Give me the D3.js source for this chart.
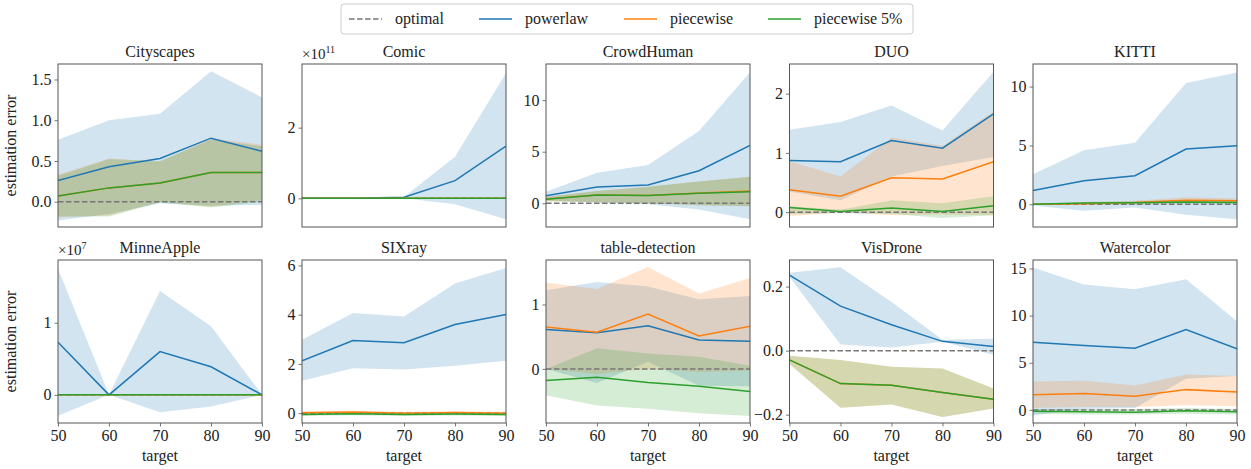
<!DOCTYPE html>
<html>
<head>
<meta charset="utf-8">
<script src="https://cdn.jsdelivr.net/npm/d3@7"></script>
<style>
  body { margin: 0; background: #fff; }
  svg text { font-family: "Liberation Serif", "DejaVu Serif", serif !important; }
</style>
</head>
<body>
<div id="chart"></div>
<script>
const targets = [50, 60, 70, 80, 90];
const datasets = ['Cityscapes', 'Comic', 'CrowdHuman', 'DUO', 'KITTI',
                  'MinneApple', 'SIXray', 'table-detection', 'VisDrone', 'Watercolor'];

// y limits and ticks (values in units of 10^exponent)
const yDomains = [[-0.31, 1.69], [-0.81, 3.8], [-2.3, 13.5], [-0.25, 2.5], [-1.93, 11.92],
                  [-0.39, 1.87], [-0.4, 6.22], [-0.84, 1.69], [-0.226, 0.283], [-1.39, 15.9]];
const yTicks = [[0, 0.5, 1.0, 1.5], [0, 2], [0, 5, 10], [0, 1, 2], [0, 5, 10],
                [0, 1], [0, 2, 4, 6], [0, 1], [-0.2, 0, 0.2], [0, 5, 10, 15]];
const yDecimals = [1, 0, 0, 0, 0, 0, 0, 0, 1, 0];
const exponents = [0, 11, 0, 0, 0, 7, 0, 0, 0, 0];

// powerlaw
const powerlawMean = [
  [0.26, 0.43, 0.53, 0.78, 0.62],
  [0, 0, 0.03, 0.5, 1.48],
  [0.74, 1.58, 1.77, 3.16, 5.6],
  [0.87, 0.85, 1.21, 1.08, 1.66],
  [1.16, 2.0, 2.43, 4.7, 4.98],
  [0.73, 0, 0.6, 0.39, 0],
  [2.13, 2.95, 2.86, 3.6, 4.01],
  [0.61, 0.56, 0.67, 0.45, 0.43],
  [0.236, 0.139, 0.081, 0.029, 0.013],
  [7.18, 6.82, 6.54, 8.53, 6.47]
];
const powerlawLow = [
  [-0.23, -0.15, -0.02, -0.05, -0.04],
  [0, 0, 0, -0.17, -0.59],
  [0.3, 0.05, -0.1, -0.6, -1.55],
  [0.35, 0.2, 0.6, 0.78, 0.93],
  [-0.1, -0.55, -0.28, -0.88, -1.28],
  [-0.29, 0, -0.24, -0.16, 0],
  [1.32, 1.82, 1.77, 1.93, 2.13],
  [0.0, -0.22, 0.11, -0.26, -0.27],
  [0.23, 0.019, 0.01, 0.028, -0.013],
  [-0.6, 0.1, 0.2, 3.3, 3.6]
];
const powerlawHigh = [
  [0.76, 1.0, 1.08, 1.6, 1.28],
  [0, 0.01, 0.04, 1.18, 3.54],
  [1.12, 2.96, 3.7, 7.0, 12.7],
  [1.39, 1.52, 1.8, 1.38, 2.37],
  [2.55, 4.6, 5.23, 10.3, 11.2],
  [1.75, 0, 1.44, 0.95, 0],
  [2.98, 4.07, 3.93, 5.27, 5.9],
  [1.22, 1.35, 1.28, 1.08, 1.13],
  [0.243, 0.26, 0.152, 0.034, 0.037],
  [15.1, 13.3, 12.8, 13.86, 9.4]
];

// piecewise
const piecewiseMean = [
  [0.07, 0.17, 0.23, 0.36, 0.36],
  [0, 0, 0, 0, 0],
  [0.42, 0.8, 0.76, 1.0, 1.2],
  [0.38, 0.27, 0.58, 0.56, 0.85],
  [0, 0.05, 0.15, 0.35, 0.3],
  [0, 0, 0, 0, 0],
  [0.02, 0.05, 0, 0.03, 0],
  [0.65, 0.57, 0.85, 0.51, 0.66],
  [-0.029, -0.103, -0.108, -0.131, -0.152],
  [1.6, 1.75, 1.45, 2.15, 1.9]
];
const piecewiseLow = [
  [-0.19, -0.17, 0.0, -0.06, 0.02],
  [0, 0, 0, 0, 0],
  [0.2, 0.1, 0.0, -0.2, -0.3],
  [-0.07, 0.0, -0.05, -0.04, -0.05],
  [-0.02, -0.02, 0.0, 0.1, 0.1],
  [0, 0, 0, 0, 0],
  [-0.05, -0.03, -0.07, -0.05, -0.07],
  [0.0, -0.08, 0.0, -0.05, -0.03],
  [-0.042, -0.178, -0.168, -0.207, -0.181],
  [0.2, 0.3, 0.3, 0.5, 0.4]
];
const piecewiseHigh = [
  [0.33, 0.53, 0.49, 0.78, 0.7],
  [0, 0, 0, 0, 0],
  [0.6, 1.2, 1.6, 2.1, 2.57],
  [0.86, 0.6, 1.26, 1.12, 1.7],
  [0.05, 0.15, 0.3, 0.6, 0.5],
  [0, 0, 0, 0, 0],
  [0.08, 0.1, 0.06, 0.08, 0.06],
  [1.34, 1.24, 1.58, 1.17, 1.41],
  [-0.016, -0.029, -0.05, -0.056, -0.118],
  [3.0, 3.1, 2.6, 3.75, 3.6]
];

// piecewise 5%
const piecewise5Mean = [
  [0.07, 0.17, 0.23, 0.36, 0.36],
  [0, 0, 0, 0, 0],
  [0.4, 0.8, 0.75, 0.97, 1.12],
  [0.08, 0.01, 0.07, 0.01, 0.11],
  [0, 0.1, 0.12, 0.2, 0.15],
  [0, 0, 0, 0, 0],
  [-0.05, -0.02, -0.05, -0.03, -0.05],
  [-0.18, -0.13, -0.21, -0.27, -0.35],
  [-0.029, -0.103, -0.108, -0.131, -0.152],
  [-0.15, -0.2, -0.25, -0.1, -0.2]
];
const piecewise5Low = [
  [-0.18, -0.18, -0.01, -0.07, 0.0],
  [0, 0, 0, 0, 0],
  [0.2, 0.1, 0.0, -0.2, -0.3],
  [-0.03, -0.02, -0.03, -0.1, -0.05],
  [-0.05, 0.0, 0.0, 0.05, 0.0],
  [0, 0, 0, 0, 0],
  [-0.12, -0.09, -0.12, -0.1, -0.12],
  [-0.41, -0.57, -0.62, -0.69, -0.73],
  [-0.042, -0.178, -0.168, -0.207, -0.181],
  [-0.4, -0.5, -0.5, -0.4, -0.5]
];
const piecewise5High = [
  [0.32, 0.52, 0.5, 0.76, 0.68],
  [0, 0, 0, 0, 0],
  [0.6, 1.2, 1.6, 2.1, 2.57],
  [0.1, 0.04, 0.2, 0.15, 0.27],
  [0.05, 0.2, 0.25, 0.35, 0.3],
  [0, 0, 0, 0, 0],
  [0.02, 0.04, 0.02, 0.03, 0.02],
  [0.0, 0.32, 0.24, 0.19, 0.05],
  [-0.016, -0.029, -0.05, -0.056, -0.118],
  [0.1, 0.1, 0.1, 0.2, 0.1]
];

const legendLabels = ['optimal', 'powerlaw', 'piecewise', 'piecewise 5%'];

const colors = { optimal: '#777', powerlaw: '#1f77b4', piecewise: '#ff7f0e', piecewise5: '#2ca02c' };
const series = [
  { name: 'powerlaw', mean: powerlawMean, low: powerlawLow, high: powerlawHigh },
  { name: 'piecewise', mean: piecewiseMean, low: piecewiseLow, high: piecewiseHigh },
  { name: 'piecewise5', mean: piecewise5Mean, low: piecewise5Low, high: piecewise5High }
];

const W = 1251, H = 469;
const serif = '"Liberation Serif", "DejaVu Serif", serif';
const svg = d3.select('#chart').append('svg').attr('width', W).attr('height', H)
  .attr('font-family', serif);

const colLeft = [58, 302, 546, 789.5, 1033];
const pw = 204;
const rowTop = [64, 260];
const ph = 163;
const spine = '#555';
const textColor = '#222';
const fs = '16px';

datasets.forEach((name, i) => {
  const row = Math.floor(i / 5), col = i % 5;
  const x0 = colLeft[col], y0 = rowTop[row];
  const g = svg.append('g').attr('transform', `translate(${x0},${y0})`);

  const x = d3.scaleLinear().domain([50, 90]).range([0, pw]);
  const y = d3.scaleLinear().domain(yDomains[i]).range([ph, 0]);

  const clipId = 'clip' + i;
  g.append('clipPath').attr('id', clipId)
    .append('rect').attr('width', pw).attr('height', ph);
  const plot = g.append('g').attr('clip-path', `url(#${clipId})`);

  const pts = series.map(s => targets.map((t, j) => ({ t, m: s.mean[i][j], lo: s.low[i][j], hi: s.high[i][j] })));

  // bands
  series.forEach((s, k) => {
    plot.append('path')
      .datum(pts[k])
      .attr('d', d3.area().x(d => x(d.t)).y0(d => y(d.lo)).y1(d => y(d.hi)))
      .attr('fill', colors[s.name])
      .attr('fill-opacity', 0.2)
      .attr('stroke', 'none');
  });

  // optimal
  plot.append('path')
    .datum(targets)
    .attr('d', d3.line().x(d => x(d)).y(() => y(0)))
    .attr('fill', 'none')
    .attr('stroke', colors.optimal)
    .attr('stroke-width', 1.5)
    .attr('stroke-dasharray', '5.5,2.5');

  // mean lines
  series.forEach((s, k) => {
    plot.append('path')
      .datum(pts[k])
      .attr('d', d3.line().x(d => x(d.t)).y(d => y(d.m)))
      .attr('fill', 'none')
      .attr('stroke', colors[s.name])
      .attr('stroke-width', 1.5);
  });

  // y axis
  const fmt = d => {
    const s = d.toFixed(yDecimals[i]);
    return s.startsWith('-') ? '\u2212' + s.slice(1) : s;
  };
  const ya = g.append('g').call(d3.axisLeft(y).tickValues(yTicks[i]).tickFormat(fmt).tickSize(3.5).tickPadding(3));
  ya.attr('font-family', serif).attr('font-size', fs);
  ya.select('.domain').remove();
  ya.selectAll('line').attr('stroke', spine).attr('stroke-width', 0.8);
  ya.selectAll('text').attr('fill', textColor);

  // x axis on bottom row only
  if (row === 1) {
    const xa = g.append('g').attr('transform', `translate(0,${ph})`)
      .call(d3.axisBottom(x).tickValues(targets).tickSize(3.5).tickPadding(3));
    xa.attr('font-family', serif).attr('font-size', fs);
    xa.select('.domain').remove();
    xa.selectAll('line').attr('stroke', spine).attr('stroke-width', 0.8);
    xa.selectAll('text').attr('fill', textColor);
    g.append('text')
      .attr('x', pw / 2).attr('y', ph + 38)
      .attr('text-anchor', 'middle')
      .attr('fill', textColor)
      .attr('font-size', fs)
      .text('target');
  }

  // frame
  g.append('rect').attr('width', pw).attr('height', ph)
    .attr('fill', 'none').attr('stroke', spine).attr('stroke-width', 1);

  // title
  g.append('text')
    .attr('x', pw / 2).attr('y', -7)
    .attr('text-anchor', 'middle')
    .attr('fill', textColor)
    .attr('font-size', fs)
    .text(name);

  // offset text
  if (exponents[i]) {
    const t = g.append('text').attr('x', 0).attr('y', -5)
      .attr('fill', textColor).attr('font-size', '15px');
    t.append('tspan').text('\u00d710');
    t.append('tspan').attr('dy', -6).attr('font-size', '10px').text(exponents[i]);
  }

  // y label
  if (col === 0) {
    g.append('text')
      .attr('transform', `translate(${-42},${ph / 2}) rotate(-90)`)
      .attr('text-anchor', 'middle')
      .attr('fill', textColor)
      .attr('font-size', fs)
      .text('estimation error');
  }
});

// legend
const lg = svg.append('g');
lg.append('rect')
  .attr('x', 341).attr('y', 4).attr('width', 572).attr('height', 30).attr('rx', 3)
  .attr('fill', '#fff').attr('stroke', '#ccc').attr('stroke-width', 1);
const legendX = [349, 479, 624, 768];
const legendKeys = ['optimal', 'powerlaw', 'piecewise', 'piecewise5'];
legendLabels.forEach((lab, k) => {
  lg.append('line')
    .attr('x1', legendX[k]).attr('x2', legendX[k] + 33)
    .attr('y1', 19).attr('y2', 19)
    .attr('stroke', colors[legendKeys[k]])
    .attr('stroke-width', 1.5)
    .attr('stroke-dasharray', k === 0 ? '5.5,2.5' : null);
  lg.append('text')
    .attr('x', legendX[k] + 46).attr('y', 24)
    .attr('fill', textColor)
    .attr('font-size', fs)
    .text(lab);
});
</script>
</body>
</html>
